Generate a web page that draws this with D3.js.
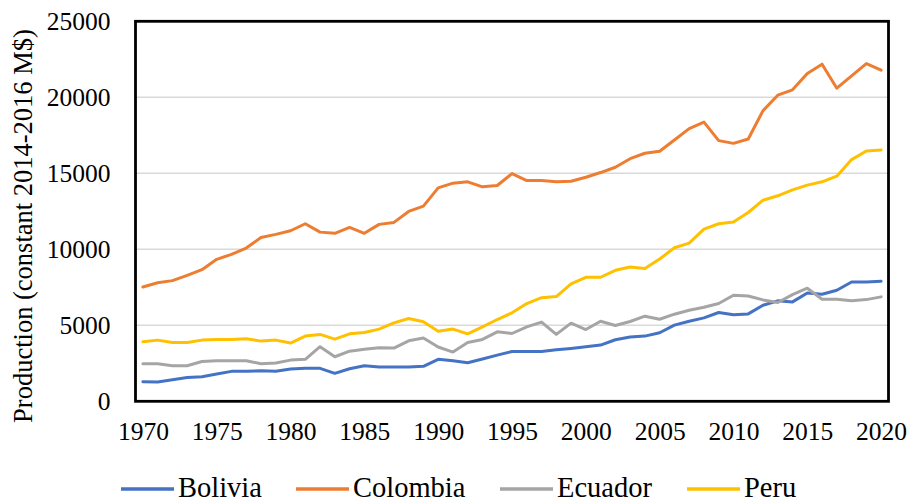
<!DOCTYPE html>
<html>
<head>
<meta charset="utf-8">
<script src="https://cdn.jsdelivr.net/npm/d3@7"></script>
<style>
  body { margin: 0; background: #fff; }
  svg text { font-family: "Liberation Serif", "Times New Roman", serif; fill: #000; }
</style>
</head>
<body>
<div id="chart"></div>
<script>
const years = d3.range(1970, 2021);
const bolivia = [1290, 1270, 1420, 1570, 1620, 1790, 1970, 1970, 2010, 1970,
  2120, 2170, 2170, 1840, 2140, 2340, 2250, 2250, 2250, 2300,
  2760, 2670, 2540, 2780, 3040, 3280, 3280, 3280, 3390, 3480,
  3590, 3700, 4050, 4230, 4290, 4510, 5010, 5270, 5490, 5840,
  5690, 5750, 6320, 6610, 6540, 7130, 7040, 7310, 7850, 7850, 7900];
const colombia = [7520, 7800, 7940, 8290, 8660, 9340, 9670, 10080, 10780, 10980,
  11220, 11680, 11130, 11050, 11440, 11050, 11640, 11770, 12490, 12840,
  14040, 14350, 14440, 14110, 14200, 14980, 14520, 14520, 14440, 14480,
  14740, 15050, 15400, 15960, 16320, 16450, 17190, 17940, 18370, 17150,
  16970, 17260, 19120, 20140, 20490, 21570, 22180, 20600, 21410, 22220, 21790];
const ecuador = [2470, 2470, 2340, 2340, 2620, 2670, 2670, 2670, 2470, 2520,
  2710, 2760, 3590, 2930, 3300, 3430, 3520, 3500, 3980, 4160,
  3570, 3240, 3870, 4070, 4570, 4460, 4900, 5210, 4400, 5140,
  4720, 5270, 4990, 5250, 5600, 5400, 5730, 5990, 6190, 6430,
  6980, 6930, 6670, 6500, 7020, 7440, 6710, 6710, 6610, 6690, 6870];
const peru = [3915, 4025, 3870, 3870, 4025, 4070, 4070, 4110, 3960, 4025,
  3830, 4290, 4400, 4090, 4440, 4530, 4750, 5160, 5450, 5230,
  4610, 4750, 4440, 4900, 5380, 5820, 6430, 6820, 6890, 7720,
  8160, 8160, 8620, 8830, 8740, 9360, 10100, 10410, 11330, 11680,
  11790, 12420, 13230, 13520, 13910, 14220, 14440, 14810, 15900, 16470, 16540];
const seriesNames = ["Bolivia", "Colombia", "Ecuador", "Peru"];
const seriesColors = ["#4472C4", "#ED7D31", "#A5A5A5", "#FFC000"];
const yTicks = [0, 5000, 10000, 15000, 20000, 25000];
const xTicks = [1970, 1975, 1980, 1985, 1990, 1995, 2000, 2005, 2010, 2015, 2020];

const width = 911, height = 502;
const plot = {left: 135.5, right: 888.5, top: 21.3, bottom: 401.3};
const serif = "'Liberation Serif', 'Times New Roman', serif";

const series = [bolivia, colombia, ecuador, peru].map(function(vals, i) {
  return { name: seriesNames[i], color: seriesColors[i], values: vals };
});

const svg = d3.select("#chart").append("svg")
  .attr("width", width)
  .attr("height", height);

const x = d3.scalePoint()
  .domain(years)
  .range([plot.left, plot.right])
  .padding(0.5);

const y = d3.scaleLinear()
  .domain([0, 25000])
  .range([plot.bottom, plot.top]);

// gridlines
svg.append("g")
  .selectAll("line")
  .data(yTicks.slice(1, -1))
  .enter().append("line")
  .attr("x1", plot.left)
  .attr("x2", plot.right)
  .attr("y1", function(d) { return y(d); })
  .attr("y2", function(d) { return y(d); })
  .attr("stroke", "#d9d9d9")
  .attr("stroke-width", 1.5);

// y axis labels
const yAxis = d3.axisLeft(y).tickValues(yTicks).tickFormat(d3.format("d"))
  .tickSize(0).tickPadding(25);
svg.append("g")
  .attr("transform", "translate(" + plot.left + ",0)")
  .call(yAxis)
  .attr("font-family", null)
  .attr("font-size", null)
  .call(function(g) { g.select(".domain").remove(); })
  .selectAll("text")
  .style("font-family", serif)
  .style("font-size", "25.5px")
  .attr("fill", "#000");

// x axis labels
const xAxis = d3.axisBottom(x).tickValues(xTicks).tickFormat(d3.format("d"))
  .tickSize(0).tickPadding(21);
svg.append("g")
  .attr("transform", "translate(0," + plot.bottom + ")")
  .call(xAxis)
  .attr("font-family", null)
  .attr("font-size", null)
  .call(function(g) { g.select(".domain").remove(); })
  .selectAll("text")
  .style("font-family", serif)
  .style("font-size", "25.5px")
  .attr("fill", "#000");

// lines
const line = d3.line()
  .x(function(d, i) { return x(years[i]); })
  .y(function(d) { return y(d); });

svg.append("g")
  .selectAll("path")
  .data(series)
  .enter().append("path")
  .attr("d", function(d) { return line(d.values); })
  .attr("fill", "none")
  .attr("stroke", function(d) { return d.color; })
  .attr("stroke-width", 3)
  .attr("stroke-linejoin", "round")
  .attr("stroke-linecap", "round");

// plot border
svg.append("rect")
  .attr("x", plot.left)
  .attr("y", plot.top)
  .attr("width", plot.right - plot.left)
  .attr("height", plot.bottom - plot.top)
  .attr("fill", "none")
  .attr("stroke", "#000")
  .attr("stroke-width", 2.8);

// y title
svg.append("text")
  .attr("transform", "translate(32," + 226 + ") rotate(-90)")
  .attr("text-anchor", "middle")
  .style("font-size", "26.5px")
  .text("Production (constant 2014-2016 M$)");

// legend
const legendX = [121, 296, 500, 687];
const legend = svg.append("g")
  .selectAll("g")
  .data(series)
  .enter().append("g")
  .attr("transform", function(d, i) { return "translate(" + legendX[i] + ",489)"; });

legend.append("line")
  .attr("x1", 0)
  .attr("x2", 53)
  .attr("stroke", function(d) { return d.color; })
  .attr("stroke-width", 3.5);

legend.append("text")
  .attr("x", 57)
  .attr("y", 8)
  .style("font-size", "28.5px")
  .text(function(d) { return d.name; });
</script>
</body>
</html>
